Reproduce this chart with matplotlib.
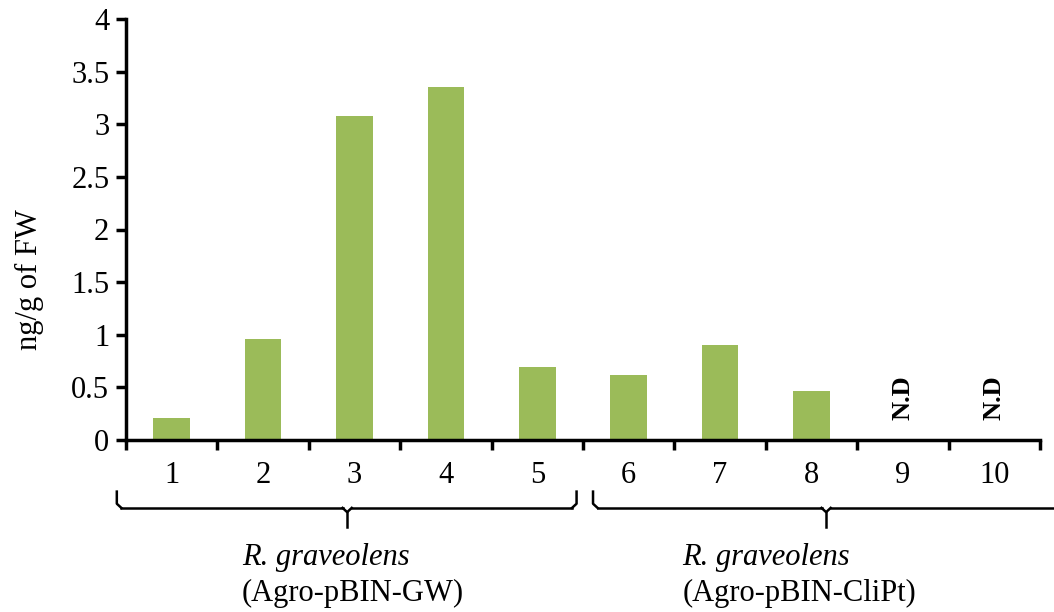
import matplotlib
matplotlib.use("Agg")
from matplotlib import pyplot as plt
from matplotlib.ticker import FixedLocator, NullFormatter

plt.rcParams['font.family'] = ['Liberation Serif', 'DejaVu Serif']

samples = ['1', '2', '3', '4', '5', '6', '7', '8', '9', '10']
values = [0.21, 0.96, 3.08, 3.35, 0.69, 0.62, 0.90, 0.47, 0, 0]
not_detected = ['9', '10']
group_labels = ['(Agro-pBIN-GW)', '(Agro-pBIN-CliPt)']

fig = plt.figure(figsize=(10.54, 6.12), dpi=100)
ax = fig.add_axes([0.1195, 0.281, 0.8672, 0.688])

x = list(range(1, len(samples) + 1))
ax.bar(x, values, width=0.4, color='#9BBB59')

ax.set_xlim(0.5, 10.5)
ax.set_ylim(0, 4)
ax.set_yticks([0, 0.5, 1, 1.5, 2, 2.5, 3, 3.5, 4])
ax.set_yticklabels(['0', '0.5', '1', '1.5', '2', '2.5', '3', '3.5', '4'])

# category boundaries as major ticks, labels on the minor ticks
ax.xaxis.set_major_locator(FixedLocator([i + 0.5 for i in range(0, 11)]))
ax.xaxis.set_major_formatter(NullFormatter())
ax.xaxis.set_minor_locator(FixedLocator(x))
ax.set_xticklabels(samples, minor=True)
ax.tick_params(axis='x', which='major', direction='out', length=7, width=2.5)
ax.tick_params(axis='x', which='minor', length=0, pad=15, labelsize=22)
ax.tick_params(axis='y', direction='out', length=7, width=2.5, labelsize=22, pad=5)

for s in ['top', 'right']:
    ax.spines[s].set_visible(False)
for s in ['left', 'bottom']:
    ax.spines[s].set_linewidth(2.5)

ax.set_ylabel('ng/g of FW', fontsize=22)
ax.yaxis.set_label_coords(-0.09, 0.38)

for lab in not_detected:
    i = samples.index(lab) + 1
    ax.text(i, 0.4, 'N.D', rotation=90, ha='center', va='center',
            fontsize=19, fontweight='bold')

# braces under the tick labels
def brace(x0, x1, xc):
    y_top, y_mid, y_tip = -0.49, -0.645, -0.83
    kw = dict(color='black', lw=1.8, clip_on=False)
    ax.plot([x0, x0, x0 + 0.05], [y_top, y_mid + 0.04, y_mid], **kw)
    ax.plot([x1, x1, x1 - 0.05], [y_top, y_mid + 0.04, y_mid], **kw)
    ax.plot([x0 + 0.05, xc - 0.05], [y_mid, y_mid], **kw)
    ax.plot([xc + 0.05, x1 - 0.05], [y_mid, y_mid], **kw)
    ax.plot([xc - 0.05, xc, xc + 0.05], [y_mid, y_mid - 0.04, y_mid], **kw)
    ax.plot([xc, xc], [y_mid - 0.04, y_tip], **kw)

brace(0.40, 5.43, 2.92)
brace(5.61, 10.75, 8.16)

for xs, lab in zip([1.77, 6.59], group_labels):
    ax.text(xs, -1.12, 'R. graveolens', style='italic', fontsize=22,
            ha='left', va='center', clip_on=False)
    ax.text(xs, -1.46, lab, fontsize=22, ha='left', va='center', clip_on=False)

fig.savefig('out.png', dpi=100)
